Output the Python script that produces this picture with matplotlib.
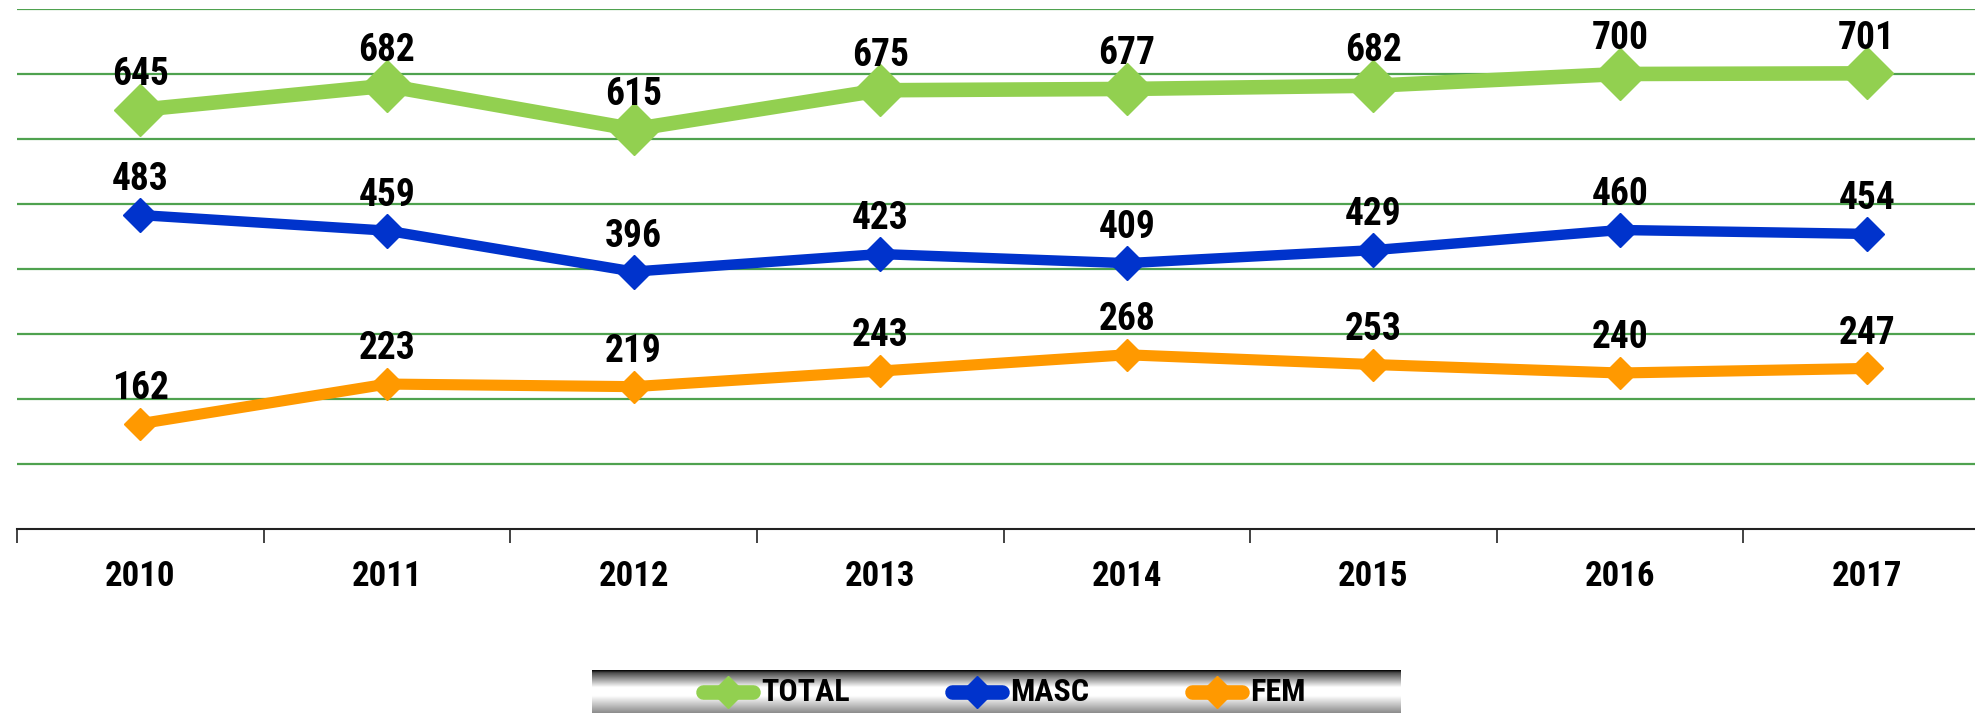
import numpy as np
import matplotlib
matplotlib.use("Agg")
import matplotlib.pyplot as plt
from matplotlib import font_manager

years = ["2010", "2011", "2012", "2013", "2014", "2015", "2016", "2017"]
total = [645, 682, 615, 675, 677, 682, 700, 701]
masc = [483, 459, 396, 423, 409, 429, 460, 454]
fem = [162, 223, 219, 243, 268, 253, 240, 247]
series_names = ["TOTAL", "MASC", "FEM"]

fl = font_manager.fontManager.ttflist
names = {f.name for f in fl}
STRETCH = "normal"
FONT = "DejaVu Sans"
for cand in ["Liberation Sans Narrow", "Roboto Condensed", "Open Sans Condensed", "Noto Sans Condensed"]:
    if cand in names:
        FONT = cand
        break
else:
    if any(f.name == "DejaVu Sans" and f.stretch == "condensed" for f in fl):
        STRETCH = "condensed"
plt.rcParams['font.family'] = [FONT, 'DejaVu Sans']
plt.rcParams['font.stretch'] = STRETCH

W, H = 1975, 713
fig = plt.figure(figsize=(W / 100, H / 100), dpi=100)
fig.patch.set_facecolor("white")

left = 17 / W
right = 1990 / W
bottom = 1 - 529 / H
top = 1 - 9 / H
ax = fig.add_axes([left, bottom, right - left, top - bottom])
x = np.arange(len(years))
ax.set_xlim(-0.5, len(years) - 0.5)
ax.set_ylim(0, 800)

for v in range(100, 801, 100):
    ax.axhline(v, color="#4FA24F", lw=1.6, zorder=1)

styles = [
    (total, "#92D050", 10.5, 26),
    (masc, "#0033CC", 7.5, 17),
    (fem, "#FF9900", 8, 16),
]
for (vals, col, lw, ms), name in zip(styles, series_names):
    ax.plot(x, vals, color=col, lw=lw, marker="D", ms=ms, mec=col, mfc=col,
            zorder=3, solid_joinstyle="miter")
    for xi, v in zip(x, vals):
        ax.annotate(str(v), (xi, v), xytext=(0, 12), textcoords="offset points",
                    ha="center", va="bottom", fontsize=27, fontweight="bold",
                    color="black", zorder=5)

for s in ["top", "right", "left"]:
    ax.spines[s].set_visible(False)
ax.spines["bottom"].set_color("#222222")
ax.spines["bottom"].set_linewidth(1.5)
ax.set_yticks([])
ax.set_xticks(np.arange(-0.5, len(years), 1.0), minor=False)
ax.set_xticklabels([])
ax.tick_params(axis="x", which="major", length=10, width=1.2, color="#222222")
ax.set_xticks(x, minor=True)
ax.set_xticklabels(years, minor=True, fontsize=25, fontweight="bold")
ax.tick_params(axis="x", which="minor", length=0, pad=22)

# legend background gradient
lx0, lx1, ly0, ly1 = 592, 1401, 670, 713
lax = fig.add_axes([lx0 / W, 1 - ly1 / H, (lx1 - lx0) / W, (ly1 - ly0) / H])
t = np.linspace(0, 1, 100)
g = np.interp(t, [0, 0.06, 0.4, 0.6, 1.0], [0.0, 0.3, 1.0, 1.0, 0.55])
img = np.repeat(g[:, None], 10, axis=1)
lax.imshow(img, cmap="gray", vmin=0, vmax=1, aspect="auto", extent=[0, 1, 0, 1], origin="upper")
lax.set_xlim(0, 1)
lax.set_ylim(0, 1)
lax.axis("off")

# legend entries (handle centers in px of full figure)
centers = [728, 977, 1217]
half = 25
wbox = lx1 - lx0
ymid = 1 - (692 - ly0) / (ly1 - ly0)
for (vals, col, lw, ms), name, cx in zip(styles, series_names, centers):
    x0 = (cx - half - lx0) / wbox
    x1 = (cx + half - lx0) / wbox
    lax.plot([x0, x1], [ymid, ymid], color=col, lw=10.5, solid_capstyle="round", zorder=3)
    lax.plot([(x0 + x1) / 2], [ymid], marker="D", ms=16, color=col, zorder=4)
    lax.text((cx + half + 8 - lx0) / wbox, ymid, name, fontsize=23, fontweight="bold",
             va="center", ha="left", color="black", zorder=5)

fig.savefig("out.png", dpi=100)
